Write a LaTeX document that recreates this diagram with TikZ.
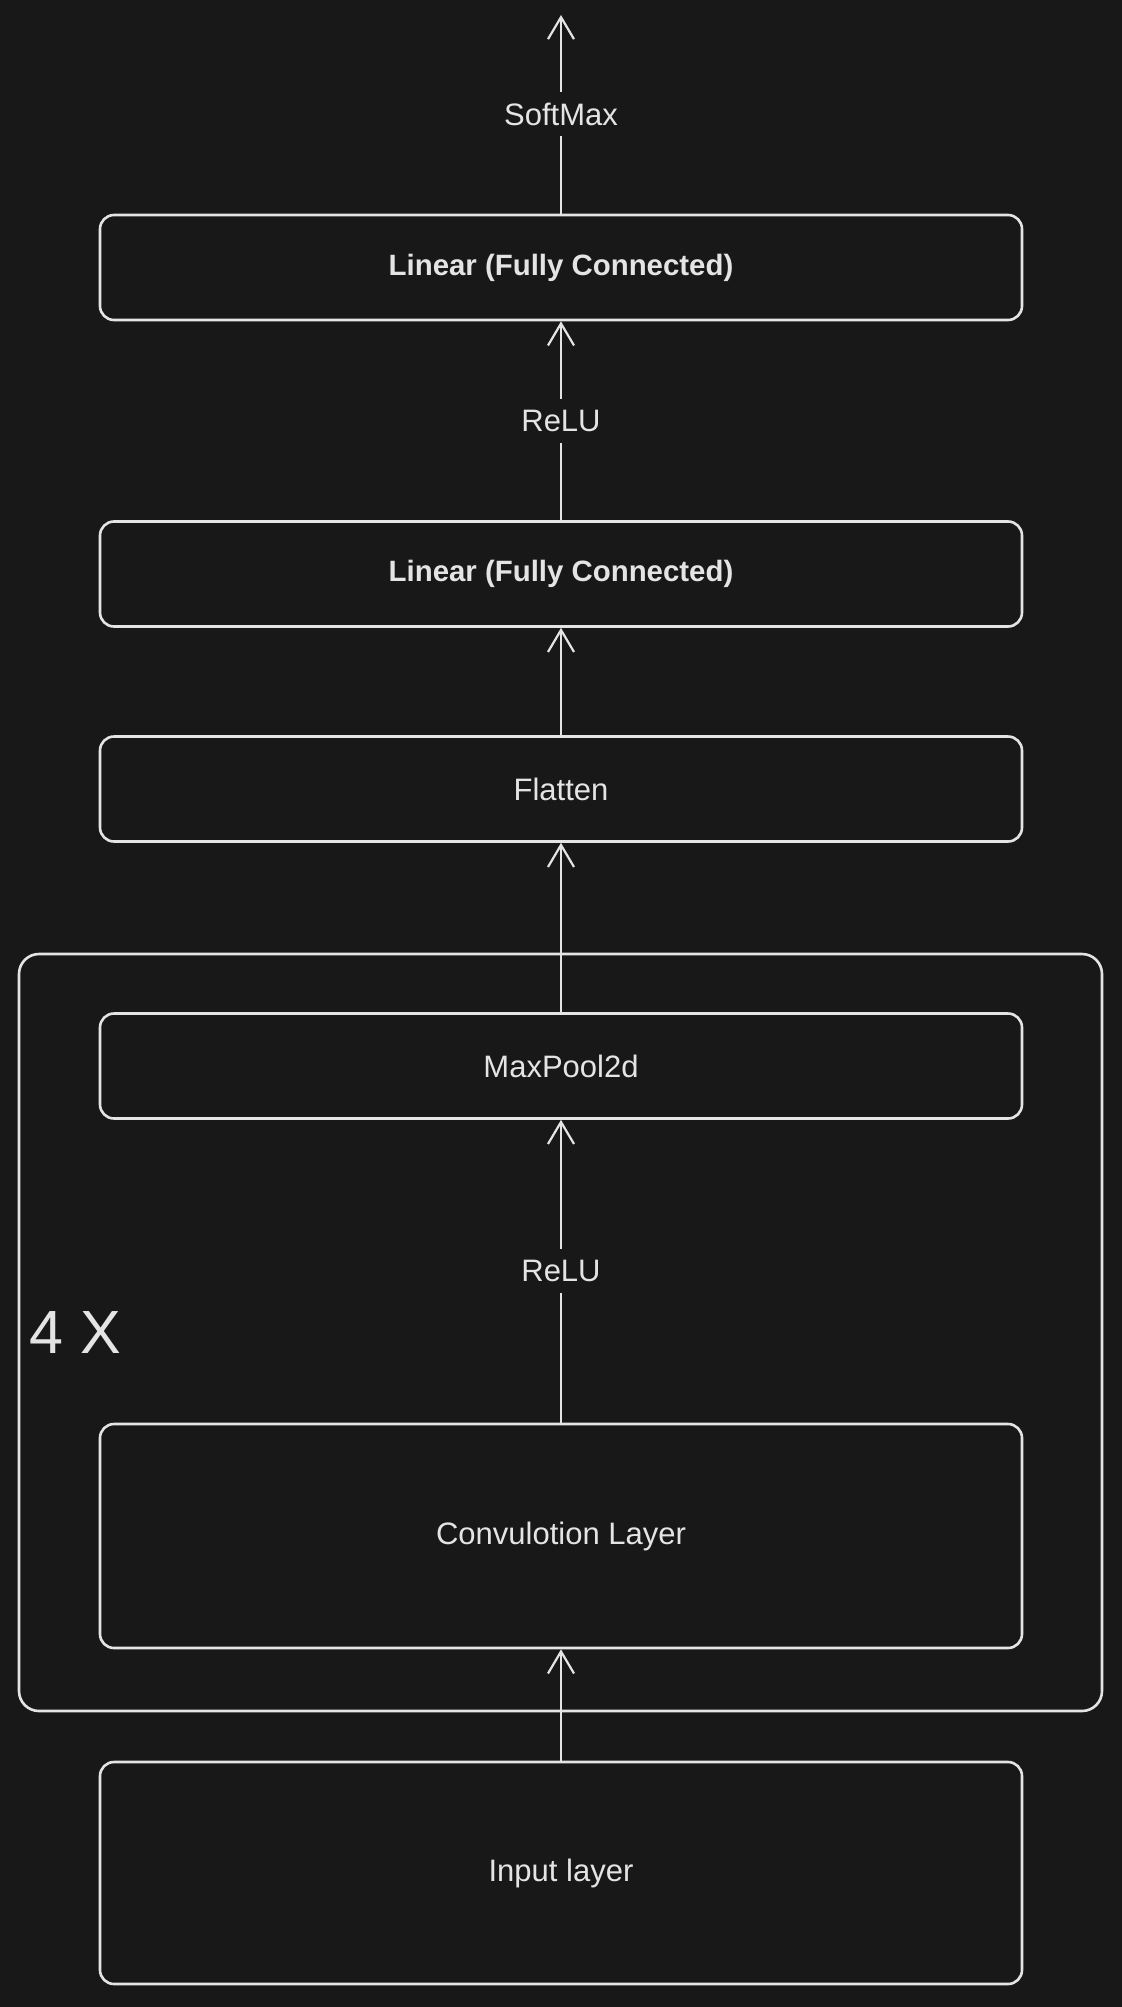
\documentclass[tikz,border=0pt]{standalone}
\usepackage{fontspec}
\setmainfont{Liberation Sans}
\usetikzlibrary{arrows.meta}
\definecolor{bg}{HTML}{181818}
\definecolor{ink}{HTML}{E4E4E4}
\begin{document}
\begin{tikzpicture}[x=0.5pt,y=-0.5pt,
  layer/.style={draw=ink, line width=1.3pt, rounded corners=7pt, minimum width=461pt,
    minimum height=52.5pt, inner sep=0pt, text=ink, font=\fontsize{15.5}{18}\selectfont},
  boldlayer/.style={layer, font=\bfseries\fontsize{14.7}{18}\selectfont},
  group/.style={draw=ink, line width=1.3pt, rounded corners=10pt, minimum width=541.5pt,
    minimum height=378.5pt, inner sep=0pt},
  conn/.style={draw=ink, line width=1.1pt, -{Straight Barb[length=11pt,width=13pt]}},
  lbl/.style={fill=bg, text=ink, inner sep=2pt, minimum height=22pt, font=\fontsize{15.5}{18}\selectfont},
  big/.style={text=ink, inner sep=0pt, font=\fontsize{30.5}{34}\selectfont}
]
\fill[bg] (0,0) rectangle (1122,2007);
\useasboundingbox (0,0) rectangle (1122,2007);

\node[group] (grp) at (560.5,1332.5) {};
\node[big, anchor=west] (rep) at (29,1333) {4 X};

\node[boldlayer] (lin1) at (561,267.5) {Linear (Fully Connected)};
\node[boldlayer] (lin2) at (561,574) {Linear (Fully Connected)};
\node[layer] (flat) at (561,789) {Flatten};
\node[layer] (pool) at (561,1066) {MaxPool2d};
\node[layer, minimum height=112pt] (conv) at (561,1536) {Convulotion Layer};
\node[layer, minimum height=111pt] (inp) at (561,1873) {Input layer};
\coordinate (out) at (561,15);

\draw[conn] (lin1.north) -- node[lbl] (sm) {SoftMax} (out);
\draw[conn] (lin2.north) -- node[lbl] (r1) {ReLU} (lin1.south);
\draw[conn] (flat.north) -- (lin2.south);
\draw[conn] (pool.north) -- (flat.south);
\draw[conn] (conv.north) -- node[lbl] (r2) {ReLU} (pool.south);
\draw[conn] (inp.north) -- (conv.south);
\end{tikzpicture}
\end{document}
